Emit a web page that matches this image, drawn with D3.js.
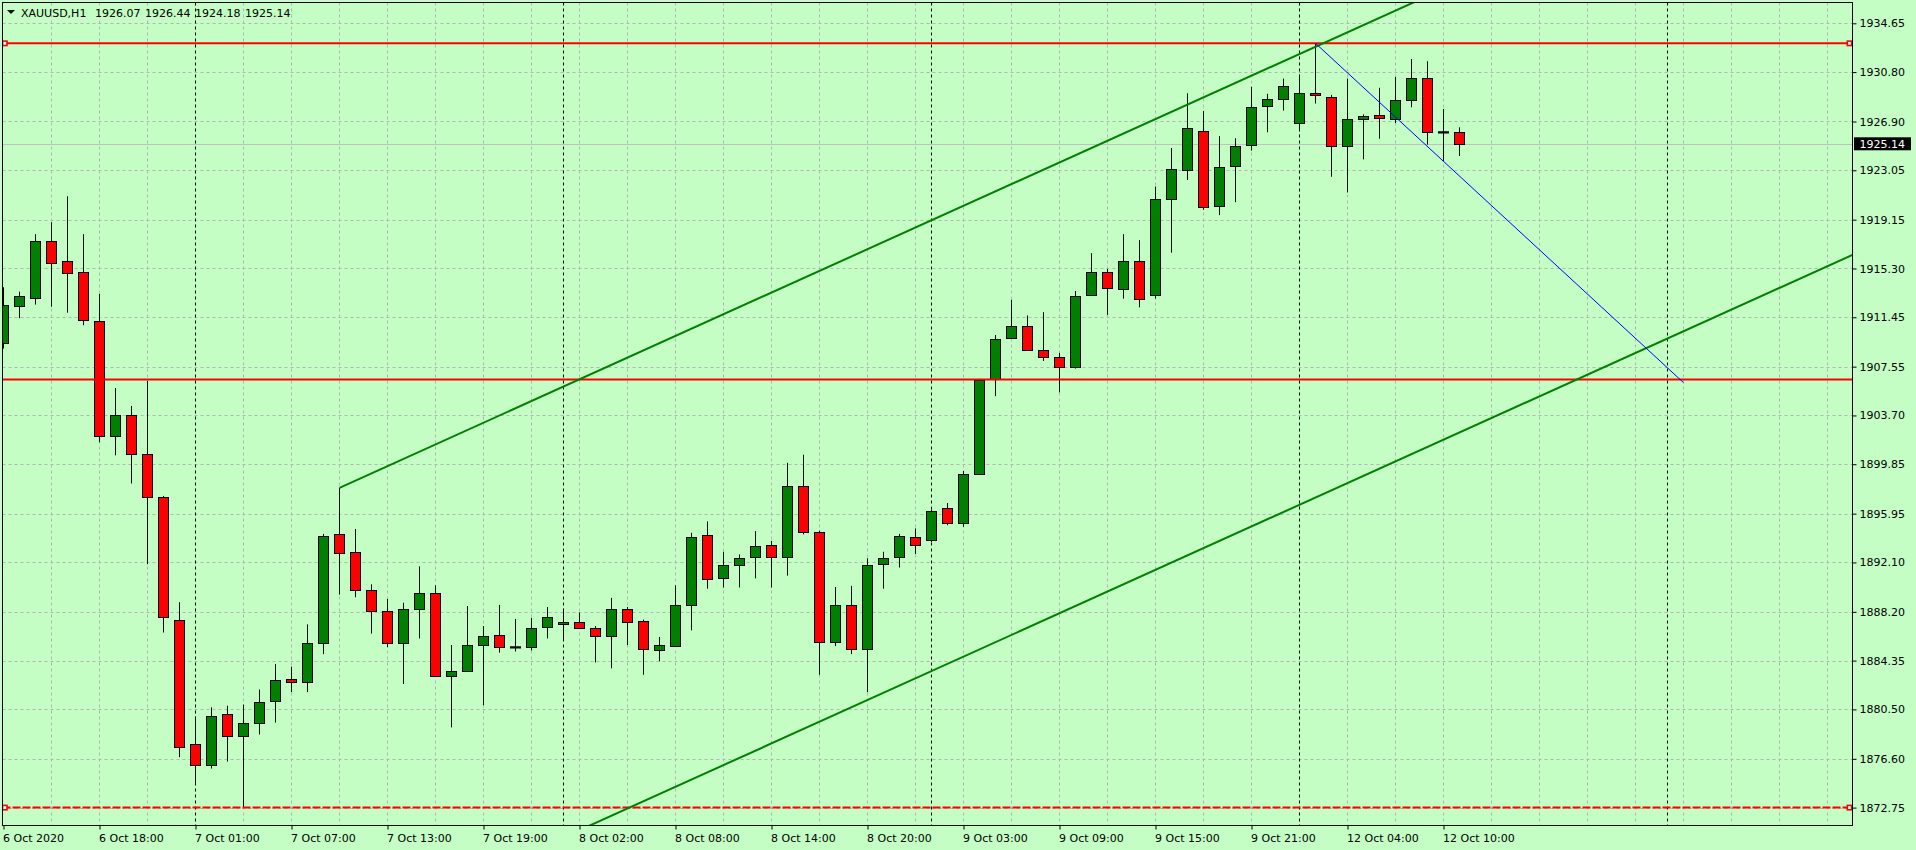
<!DOCTYPE html>
<html><head><meta charset="utf-8">
<script src="https://cdn.jsdelivr.net/npm/d3@7"></script>
<style>
html,body{margin:0;padding:0;background:#c5fec5;overflow:hidden}
svg{display:block}
text{font-family:"DejaVu Sans",sans-serif;font-size:11px;fill:#000}
</style></head><body>
<svg id="chart" width="1916" height="850"></svg>
<script>
// ---------------- data ----------------
const symbol = "XAUUSD,H1";
const headerValues = ["1926.07", "1926.44", "1924.18", "1925.14"];

const open = [1909.45,1912.32,1913.00,1917.50,1915.87,1915.06,1911.12,1902.05,1903.76,1900.64,
  1897.30,1887.59,1877.80,1876.09,1880.11,1878.40,1879.46,1881.18,1882.89,1882.67,
  1885.71,1894.31,1892.90,1889.90,1888.23,1885.71,1888.41,1889.65,1883.14,1883.53,
  1885.62,1886.35,1885.45,1885.45,1887.04,1887.21,1887.42,1886.95,1886.27,1888.41,
  1887.46,1885.15,1885.54,1888.71,1894.27,1890.84,1891.87,1892.51,1893.45,1892.51,
  1898.16,1894.48,1885.80,1888.71,1885.24,1891.96,1892.51,1894.14,1893.84,1896.36,
  1895.25,1899.10,1906.54,1909.80,1910.74,1908.90,1908.30,1907.53,1913.17,1915.01,
  1913.65,1915.91,1913.17,1920.75,1923.10,1926.18,1920.23,1923.40,1925.07,1928.15,
  1928.70,1926.82,1929.17,1928.87,1924.94,1927.12,1927.38,1927.12,1928.58,1930.37,
  1926.07,1926.07];
const high = [1913.82,1913.47,1918.01,1918.95,1921.00,1918.01,1913.30,1905.86,1904.45,1906.42,
  1897.35,1888.96,1879.94,1880.66,1880.79,1880.88,1882.07,1884.09,1883.87,1887.21,
  1894.35,1897.99,1894.74,1890.37,1889.22,1888.92,1891.79,1890.29,1885.58,1888.66,
  1887.08,1888.75,1887.64,1887.72,1888.58,1888.45,1888.15,1887.08,1889.30,1888.58,
  1887.59,1886.22,1890.29,1894.44,1895.34,1892.94,1892.73,1894.57,1893.80,1899.96,
  1900.60,1894.61,1890.16,1890.25,1892.43,1892.94,1894.35,1894.78,1896.28,1896.79,
  1899.32,1906.59,1910.05,1912.83,1911.59,1911.85,1908.64,1913.52,1916.51,1915.27,
  1918.01,1917.54,1921.77,1924.81,1929.13,1927.72,1925.75,1925.58,1929.64,1929.09,
  1930.29,1930.59,1933.07,1929.00,1930.29,1927.46,1929.56,1930.41,1931.83,1931.66,
  1927.89,1926.44];
const low = [1908.98,1911.38,1912.45,1912.28,1911.81,1910.82,1901.58,1900.55,1898.33,1891.96,
  1886.57,1876.73,1874.59,1875.83,1876.38,1872.75,1878.52,1879.46,1881.86,1881.86,
  1884.86,1889.56,1889.35,1886.48,1885.41,1882.50,1886.10,1883.10,1879.08,1883.45,
  1880.83,1884.98,1885.07,1885.15,1886.10,1886.01,1886.87,1884.21,1883.74,1885.58,
  1883.23,1884.30,1885.45,1886.74,1890.03,1890.12,1890.12,1890.84,1890.12,1891.06,
  1894.31,1883.23,1885.50,1884.86,1881.86,1890.03,1891.70,1892.77,1893.71,1895.04,
  1894.91,1899.01,1905.22,1909.80,1908.90,1908.00,1905.52,1907.40,1913.17,1911.64,
  1912.92,1912.23,1912.92,1916.55,1922.29,1919.93,1919.51,1920.53,1924.60,1926.05,
  1927.76,1926.22,1928.32,1922.54,1921.30,1923.91,1925.54,1926.78,1928.02,1925.07,
  1923.78,1924.18];
const close = [1912.40,1913.09,1917.50,1915.70,1914.97,1911.21,1902.05,1903.76,1900.64,1897.30,
  1887.76,1877.50,1876.09,1879.94,1878.40,1879.46,1881.05,1882.80,1882.67,1885.71,
  1894.22,1892.81,1889.90,1888.23,1885.71,1888.45,1889.65,1883.10,1883.57,1885.62,
  1886.27,1885.41,1885.45,1886.91,1887.81,1887.42,1886.95,1886.27,1888.41,1887.38,
  1885.24,1885.58,1888.75,1894.10,1890.76,1891.87,1892.47,1893.41,1892.51,1898.16,
  1894.48,1885.80,1888.71,1885.24,1891.87,1892.47,1894.22,1893.45,1896.19,1895.25,
  1899.10,1906.46,1909.75,1910.78,1908.90,1908.30,1907.49,1913.09,1915.01,1913.77,
  1915.91,1912.92,1920.75,1923.19,1926.35,1920.19,1923.27,1924.94,1928.06,1928.70,
  1929.73,1929.17,1928.96,1924.94,1927.08,1927.33,1927.16,1928.58,1930.37,1926.05,
  1926.07,1925.14];

// time-axis labels, one every 6 bars starting at bar 0
const xTickLabels = ["6 Oct 2020","6 Oct 18:00","7 Oct 01:00","7 Oct 07:00","7 Oct 13:00",
  "7 Oct 19:00","8 Oct 02:00","8 Oct 08:00","8 Oct 14:00","8 Oct 20:00","9 Oct 03:00",
  "9 Oct 09:00","9 Oct 15:00","9 Oct 21:00","12 Oct 04:00","12 Oct 10:00"];
// bars where a new trading day begins (period separators)
const dayStartBars = [12, 35, 58, 81, 104];
// price scale labels
const yTicks = [1934.65,1930.80,1926.90,1923.05,1919.15,1915.30,1911.45,1907.55,1903.70,
  1899.85,1895.95,1892.10,1888.20,1884.35,1880.50,1876.60,1872.75];
const lastPrice = 1925.14;
// horizontal level lines
const levelPrices = [1933.07, 1906.54, 1872.75];
// equidistant channel: anchor bars / prices of the upper line, and the channel width
const channelBars = [21, 82];
const channelPrices = [1897.99, 1932.80];
const channelWidth = 35.58;
// trend line
const trendBars = [82, 105];
const trendPrices = [1933.07, 1906.29];

// ---------------- layout ----------------
const svg = d3.select("#chart");
const L = 2.5, T = 2.5, R = 1852.5, B = 825.5;
const x = d3.scaleLinear().domain([0, 1]).range([3.5, 19.5]);
const y = d3.scaleLinear().domain([1872.75, 1934.65]).range([807.6, 23.3]);
const gridColor = "#b5b5b5";

svg.append("rect").attr("width", 1916).attr("height", 850).attr("fill", "#c5fec5");

svg.append("defs").append("clipPath").attr("id", "plotclip")
  .append("rect").attr("x", L).attr("y", T).attr("width", R - L).attr("height", B - T);

const plot = svg.append("g").attr("clip-path", "url(#plotclip)");

// vertical grid every 3 bars
const vGrid = d3.range(3, 116, 3);
plot.append("g").selectAll("line").data(vGrid).join("line")
  .attr("x1", d => x(d)).attr("x2", d => x(d)).attr("y1", T).attr("y2", B)
  .attr("stroke", gridColor).attr("stroke-width", 1).attr("stroke-dasharray", "3,3");
// horizontal grid
plot.append("g").selectAll("line").data(yTicks).join("line")
  .attr("x1", L).attr("x2", R)
  .attr("y1", d => Math.round(y(d)) + 0.5).attr("y2", d => Math.round(y(d)) + 0.5)
  .attr("stroke", gridColor).attr("stroke-width", 1).attr("stroke-dasharray", "3,3");
// period separators
plot.append("g").selectAll("line").data(dayStartBars).join("line")
  .attr("x1", d => x(d)).attr("x2", d => x(d)).attr("y1", T).attr("y2", B)
  .attr("stroke", "#000").attr("stroke-width", 1).attr("stroke-dasharray", "3,3");
// last price line
plot.append("line").attr("x1", L).attr("x2", R)
  .attr("y1", Math.round(y(lastPrice)) + 0.5).attr("y2", Math.round(y(lastPrice)) + 0.5)
  .attr("stroke", "#c0c0c0").attr("stroke-width", 1);

// candles
const bars = open.map((o, i) => ({ i, o, h: high[i], l: low[i], c: close[i] }));
const cg = plot.append("g");
cg.selectAll("line.wick").data(bars).join("line").attr("class", "wick")
  .attr("x1", d => x(d.i)).attr("x2", d => x(d.i))
  .attr("y1", d => y(d.h)).attr("y2", d => y(d.l))
  .attr("stroke", "#000").attr("stroke-width", 1);
bars.forEach(d => {
  const top = y(Math.max(d.o, d.c)), bot = y(Math.min(d.o, d.c));
  if (bot - top < 1.5) {
    cg.append("rect").attr("x", x(d.i) - 5.5).attr("y", Math.round(top) - 0.5)
      .attr("width", 11).attr("height", Math.max(1, Math.round(bot - top)) + 1)
      .attr("fill", d.c > d.o ? "#008000" : (d.c < d.o ? "#ff0000" : "#000"));
    cg.append("rect").attr("x", x(d.i) - 5).attr("y", Math.round(top))
      .attr("width", 10).attr("height", Math.max(0.01, Math.round(bot - top)))
      .attr("fill", "none").attr("stroke", "#000").attr("stroke-width", 1);
  } else {
    cg.append("rect").attr("x", x(d.i) - 5).attr("y", Math.round(top) + 0.5)
      .attr("width", 10).attr("height", Math.round(bot) - Math.round(top))
      .attr("fill", d.c >= d.o ? "#008000" : "#ff0000")
      .attr("stroke", "#000").attr("stroke-width", 1);
  }
});

// horizontal levels
levelPrices.forEach((p, k) => {
  const yy = y(p);
  plot.append("line").attr("x1", L).attr("x2", R).attr("y1", yy).attr("y2", yy)
    .attr("stroke", "#ff0000").attr("stroke-width", 2)
    .attr("stroke-dasharray", k === 2 ? "8,2" : null);
  if (k !== 1) {
    [4.8, 1849.5].forEach(mx => {
      plot.append("rect").attr("x", mx - 2.2).attr("y", yy - 2.2).attr("width", 4.4).attr("height", 4.4)
        .attr("fill", "#fff").attr("stroke", "#ff0000").attr("stroke-width", 1.6);
    });
  }
});

// channel
const slope = (channelPrices[1] - channelPrices[0]) / (channelBars[1] - channelBars[0]);
const endBar = 130;
[0, -channelWidth].forEach(off => {
  plot.append("line")
    .attr("x1", x(channelBars[0])).attr("y1", y(channelPrices[0] + off))
    .attr("x2", x(endBar)).attr("y2", y(channelPrices[0] + off + slope * (endBar - channelBars[0])))
    .attr("stroke", "#008000").attr("stroke-width", 2);
});
// trend line
plot.append("line")
  .attr("x1", x(trendBars[0])).attr("y1", y(trendPrices[0]))
  .attr("x2", x(trendBars[1])).attr("y2", y(trendPrices[1]))
  .attr("stroke", "#0000ff").attr("stroke-width", 1);

// frame
svg.append("rect").attr("x", L).attr("y", T).attr("width", R - L).attr("height", B - T)
  .attr("fill", "none").attr("stroke", "#000").attr("stroke-width", 1);

// price axis
const ya = svg.append("g").attr("transform", `translate(${R},0)`)
  .call(d3.axisRight(y).tickValues(yTicks).tickSize(4).tickPadding(3).tickFormat(d => d.toFixed(2)));
ya.select(".domain").remove();
ya.selectAll("text").attr("font-family", "DejaVu Sans").attr("font-size", 11).attr("fill", "#000");
ya.selectAll(".tick line").attr("stroke", "#000");

// last price label
const ly = y(lastPrice);
svg.append("rect").attr("x", 1854).attr("y", ly - 6.5).attr("width", 57).attr("height", 13).attr("fill", "#000");
svg.append("text").attr("x", 1859.5).attr("y", ly + 4).attr("fill", "#fff").style("fill", "#fff")
  .text(lastPrice.toFixed(2));

// time axis
const xa = svg.append("g").attr("transform", `translate(0,${B})`)
  .call(d3.axisBottom(x).tickValues(xTickLabels.map((_, k) => k * 6)).tickSize(4)
    .tickFormat((d, k) => xTickLabels[k]));
xa.select(".domain").remove();
xa.selectAll(".tick line").attr("stroke", "#000");
xa.selectAll("text").attr("text-anchor", "start").attr("dy", null).attr("y", 16.5).attr("x", -1)
  .attr("font-family", "DejaVu Sans").attr("font-size", 11).attr("fill", "#000");

// header
svg.append("path").attr("d", "M7,10 L15,10 L11,14 Z").attr("fill", "#000");
svg.append("text").attr("x", 21).attr("y", 16.5).text(symbol);
headerValues.forEach((v, k) => svg.append("text").attr("x", 95 + 50 * k).attr("y", 16.5).text(v));
</script>
</body></html>
